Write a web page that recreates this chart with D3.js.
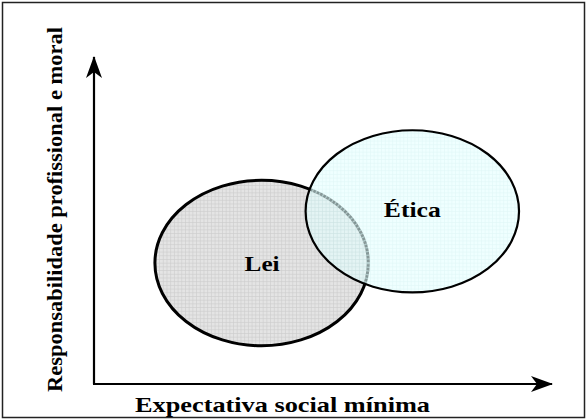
<!DOCTYPE html>
<html><head><meta charset="utf-8">
<script src="https://cdn.jsdelivr.net/npm/d3@7"></script>
<style>body{margin:0;background:#fff}svg{display:block}</style>
</head><body>
<svg id="c" width="587" height="420"></svg>
<script>
// Data (conceptual units 0..100 on both axes)
const categories = ["Lei", "Ética"];
const centerX = [36.6, 69.5];
const centerY = [37.0, 52.8];
const radiusX = [23.3, 23.3];
const radiusY = [25.3, 24.8];
const xLabel = "Expectativa social mínima";
const yLabel = "Responsabilidade profissional e moral";

const svg = d3.select("#c");
const W = 587, H = 420;
const x = d3.scaleLinear().domain([0, 100]).range([94, 552]);
const y = d3.scaleLinear().domain([0, 100]).range([384, 57]);
const FONT = '"Liberation Serif"';

const defs = svg.append("defs");
function grid(id, bg, line) {
  const p = defs.append("pattern").attr("id", id).attr("patternUnits", "userSpaceOnUse")
    .attr("width", 3.7).attr("height", 3.7);
  p.append("rect").attr("width", 3.7).attr("height", 3.7).attr("fill", bg);
  p.append("path").attr("d", "M0,0.4H3.7M0.4,0V3.7").attr("stroke", line).attr("stroke-width", 0.7);
}
grid("gLei", "#e4e4e4", "#cdcdcd");
grid("gEtica", "#e4ffff", "#cdf2f2");

// frame
svg.append("rect").attr("x", 2.5).attr("y", 2.5).attr("width", W - 5).attr("height", H - 5)
  .attr("fill", "none").attr("stroke", "#222").attr("stroke-width", 1.5);

// arrow markers
defs.append("marker").attr("id", "arr").attr("viewBox", "0 0 22 16").attr("refX", 21).attr("refY", 8)
  .attr("markerWidth", 22).attr("markerHeight", 16).attr("markerUnits", "userSpaceOnUse").attr("orient", "auto")
  .append("path").attr("d", "M0,0 L22,8 L0,16 L6,8 Z").attr("fill", "#000");

// axes
svg.append("line").attr("x1", x(0)).attr("y1", y(0)).attr("x2", x(0)).attr("y2", y(100))
  .attr("stroke", "#000").attr("stroke-width", 2.2).attr("marker-end", "url(#arr)");
svg.append("line").attr("x1", x(0) - 1).attr("y1", y(0)).attr("x2", x(100)).attr("y2", y(0))
  .attr("stroke", "#000").attr("stroke-width", 2.2).attr("marker-end", "url(#arr)");

// ellipses
const data = categories.map((c, i) => ({ c, cx: centerX[i], cy: centerY[i], rx: radiusX[i], ry: radiusY[i] }));
const sx = v => x(v) - x(0), sy = v => y(0) - y(v);

const lei = data[0], et = data[1];
svg.append("ellipse").attr("cx", x(lei.cx)).attr("cy", y(lei.cy)).attr("rx", sx(lei.rx)).attr("ry", sy(lei.ry))
  .attr("fill", "url(#gLei)").attr("stroke", "#000").attr("stroke-width", 3);
svg.append("ellipse").attr("cx", x(et.cx)).attr("cy", y(et.cy)).attr("rx", sx(et.rx)).attr("ry", sy(et.ry))
  .attr("fill", "url(#gEtica)").attr("fill-opacity", 0.6).attr("stroke", "none");
// dashed look of Lei outline seen through Ética
const clip = defs.append("clipPath").attr("id", "clipEt");
clip.append("ellipse").attr("cx", x(et.cx)).attr("cy", y(et.cy)).attr("rx", sx(et.rx)).attr("ry", sy(et.ry));
svg.append("ellipse").attr("cx", x(lei.cx)).attr("cy", y(lei.cy)).attr("rx", sx(lei.rx)).attr("ry", sy(lei.ry))
  .attr("fill", "none").attr("stroke", "#d8f4f4").attr("stroke-width", 3.2).attr("stroke-dasharray", "1.3 2.4")
  .attr("stroke-opacity", 0.55).attr("clip-path", "url(#clipEt)");
svg.append("ellipse").attr("cx", x(et.cx)).attr("cy", y(et.cy)).attr("rx", sx(et.rx)).attr("ry", sy(et.ry))
  .attr("fill", "none").attr("stroke", "#000").attr("stroke-width", 2.2);

// labels
function txt() {
  return svg.append("text").style("font-family", FONT).attr("font-weight", "bold")
    .attr("text-anchor", "middle").attr("lengthAdjust", "spacingAndGlyphs").attr("fill", "#000");
}
txt().attr("x", x(lei.cx) + 0.5).attr("y", y(lei.cy) + 8).attr("font-size", 22)
  .attr("textLength", 35).text(lei.c);
txt().attr("x", x(et.cx)).attr("y", y(et.cy) + 5.5).attr("font-size", 22)
  .attr("textLength", 57).text(et.c);

txt().attr("x", 282.5).attr("y", 412).attr("font-size", 22)
  .attr("textLength", 295).text(xLabel);
txt().attr("transform", "translate(62,209.5) rotate(-90)").attr("font-size", 22)
  .attr("textLength", 365).text(yLabel);
</script>
</body></html>
